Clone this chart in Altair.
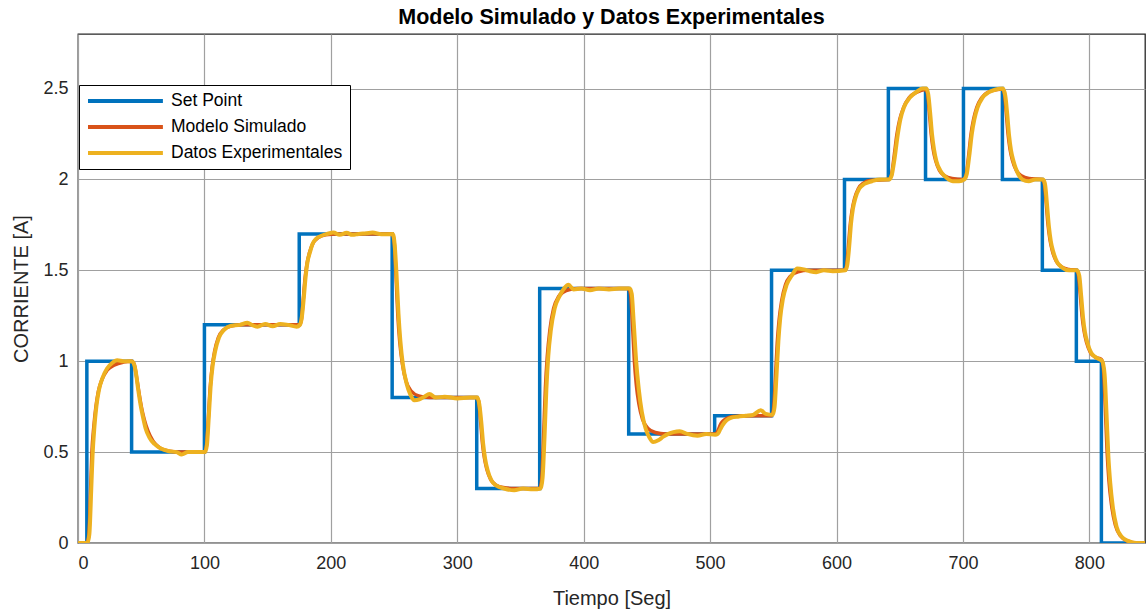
import altair as alt
import pandas as pd

# ---- Set Point (blue step signal) ----
sp_t = [0, 7, 42.4, 100, 175, 248.5, 315.4, 365.2, 435.6, 503.6, 548.6, 606.3,
        641, 670.4, 700.4, 731.2, 762.8, 789.7, 809.5, 844]
sp_i = [0, 1.0, 0.5, 1.2, 1.7, 0.8, 0.3, 1.4, 0.6, 0.7, 1.5, 2.0,
        2.5, 2.0, 2.5, 2.0, 1.5, 1.0, 0.0, 0.0]

# ---- Modelo Simulado (red) ----
model_t = [0, 7, 8.5, 10, 11, 12.5, 14, 16, 19, 23, 29, 36,
           42.4, 44.4, 46.4, 48.4, 50.4, 52.4, 55.4, 59.4, 64.4, 72.4, 82.4,
           100, 101.5, 103, 104.5, 106, 108, 111, 115, 121, 130,
           175, 176.5, 178, 179.5, 181, 183, 186, 190, 196, 205,
           248.5, 250, 251.5, 253, 254.5, 256.5, 259.5, 263.5, 269.5, 278,
           315.4, 316.9, 318.4, 319.9, 321.4, 323.4, 326.4, 330.4, 336.4, 345,
           365.2, 366.7, 368.2, 369.7, 371.2, 373.2, 376.2, 380.2, 386.2, 395,
           435.6, 437.1, 438.6, 440.1, 441.6, 443.6, 446.6, 450.6, 456.6, 465,
           503.6, 505.1, 506.6, 508.1, 509.6, 511.6, 514.6, 518.6, 524.6,
           548.6, 550.1, 551.6, 553.1, 554.6, 556.6, 559.6, 563.6, 569.6, 578,
           606.3, 607.8, 609.3, 610.8, 612.3, 614.3, 617.3, 621.3, 627.3,
           641, 643.3, 645.5, 647.8, 650, 653, 657.5, 663.5,
           670.4, 671.9, 673.4, 674.9, 676.4, 678.4, 681.4, 685.4, 691.4,
           700.4, 702.4, 704.4, 706.4, 708.4, 710.9, 714.9, 719.9, 727.4,
           731.2, 732.7, 734.2, 735.7, 737.2, 739.2, 742.2, 746.2, 752.2,
           762.8, 764.3, 765.8, 767.3, 768.8, 770.8, 773.8, 777.8, 783.8,
           789.7, 791.2, 792.7, 794.2, 795.7, 797.7, 800.7, 804.7,
           809.5, 811, 812.5, 814, 815.5, 817.5, 820.5, 824.5, 830.5, 837, 844]
model_i = [0, 0, 0.04, 0.3, 0.5, 0.64, 0.74, 0.83, 0.9, 0.95, 0.98, 0.995,
           1.0, 0.985, 0.91, 0.82, 0.74, 0.68, 0.615, 0.56, 0.525, 0.505, 0.5,
           0.5, 0.528, 0.675, 0.85, 0.962, 1.053, 1.13, 1.172, 1.193, 1.2,
           1.2, 1.22, 1.325, 1.45, 1.53, 1.595, 1.65, 1.68, 1.695, 1.7,
           1.7, 1.664, 1.475, 1.25, 1.106, 0.989, 0.89, 0.836, 0.809, 0.8,
           0.8, 0.78, 0.675, 0.55, 0.47, 0.405, 0.35, 0.32, 0.305, 0.3,
           0.3, 0.344, 0.575, 0.85, 1.026, 1.169, 1.29, 1.356, 1.389, 1.4,
           1.4, 1.368, 1.2, 1.0, 0.872, 0.768, 0.68, 0.632, 0.608, 0.6,
           0.6, 0.604, 0.625, 0.65, 0.666, 0.679, 0.69, 0.696, 0.699,
           0.7, 0.732, 0.9, 1.1, 1.228, 1.332, 1.42, 1.468, 1.492, 1.5,
           1.5, 1.52, 1.625, 1.75, 1.83, 1.895, 1.95, 1.98, 1.995,
           2.0, 2.02, 2.125, 2.25, 2.33, 2.395, 2.45, 2.48,
           2.495, 2.475, 2.37, 2.248, 2.168, 2.104, 2.05, 2.02, 2.005,
           2.0, 2.02, 2.125, 2.25, 2.33, 2.395, 2.45, 2.48, 2.495,
           2.497, 2.477, 2.372, 2.248, 2.168, 2.104, 2.05, 2.02, 2.005,
           2.0, 1.98, 1.875, 1.75, 1.67, 1.605, 1.55, 1.52, 1.505,
           1.5, 1.48, 1.375, 1.25, 1.17, 1.105, 1.05, 1.022,
           1.01, 0.97, 0.76, 0.505, 0.34, 0.21, 0.1, 0.04, 0.01, 0.0, 0.0]

# ---- Datos Experimentales (yellow) ----
exp_t = [0, 7.5, 9, 10.5, 11.5, 13, 14.5, 16.5, 19.5, 23, 27, 31, 36, 42.4,
         43.5, 45.5, 47.5, 49.5, 51.5, 53.5, 56.5, 60.5, 65.5, 72, 78, 82, 87, 93, 100.5,
         102, 103.5, 105, 106.5, 108.5, 111.5, 115.5, 121, 128, 134, 138, 142, 148, 154, 160, 166, 173, 175.5,
         177, 178.5, 180, 181.5, 183.5, 185.5, 188.5, 192.5, 197, 202, 207, 212.5, 217, 222, 228, 233, 240, 249,
         250.5, 252, 253.5, 255, 257, 260, 263, 266, 270, 274, 278, 283, 290, 300, 310, 316,
         317.5, 319, 320.5, 322, 324, 327, 331, 337, 345, 352, 360, 366,
         367.5, 369, 370.5, 372, 374, 377, 381, 385, 388, 392, 398, 405, 412, 420, 428, 436.5,
         438, 439.5, 441.5, 443.5, 446, 449, 452, 455, 459, 463, 467, 471, 476, 482, 490, 497, 504,
         506, 508, 510, 513, 517, 522, 528, 534, 540, 544, 549.5,
         551, 552.5, 554, 555.5, 557.5, 560.5, 564.5, 569, 574, 579, 584, 590, 597, 607,
         608.5, 610, 611.5, 613, 615, 618, 622, 628, 634, 641.5,
         643.5, 646, 648.5, 650.5, 653.5, 658, 664, 668, 671,
         672.5, 674, 675.5, 677, 679, 682, 686, 692, 697, 701,
         703, 705, 707, 709, 711.5, 715.5, 720.5, 726, 731.5,
         733.5, 735, 736.5, 738, 740, 743, 747, 752, 757, 763.5,
         765, 766.5, 768, 769.5, 771.5, 774.5, 778.5, 784, 790.2,
         792, 793.5, 795, 796.5, 798.5, 801.5, 805.5, 810.2,
         812, 813.5, 815, 816.5, 818.5, 821.5, 825.5, 831, 837, 844]
exp_i = [0, 0, 0.05, 0.3, 0.48, 0.64, 0.75, 0.84, 0.91, 0.96, 0.99, 1.005, 1.0, 1.0,
         0.995, 0.95, 0.85, 0.76, 0.69, 0.63, 0.58, 0.545, 0.52, 0.505, 0.5, 0.487, 0.5, 0.5, 0.5,
         0.54, 0.7, 0.87, 0.975, 1.055, 1.13, 1.172, 1.195, 1.2, 1.212, 1.198, 1.19, 1.205, 1.192, 1.205, 1.2, 1.19, 1.2,
         1.24, 1.34, 1.46, 1.545, 1.6, 1.645, 1.675, 1.69, 1.7, 1.708, 1.695, 1.706, 1.695, 1.7, 1.704, 1.708, 1.698, 1.7,
         1.64, 1.47, 1.26, 1.11, 0.98, 0.875, 0.815, 0.785, 0.79, 0.805, 0.82, 0.8, 0.805, 0.795, 0.8, 0.8,
         0.76, 0.665, 0.545, 0.465, 0.4, 0.345, 0.315, 0.3, 0.29, 0.3, 0.295, 0.3,
         0.36, 0.58, 0.85, 1.03, 1.17, 1.29, 1.36, 1.405, 1.42, 1.395, 1.4, 1.39, 1.4, 1.395, 1.4, 1.4,
         1.37, 1.22, 1.0, 0.85, 0.72, 0.63, 0.58, 0.555, 0.565, 0.585, 0.6, 0.61, 0.615, 0.6, 0.59, 0.6, 0.595,
         0.6, 0.625, 0.65, 0.675, 0.69, 0.695, 0.7, 0.705, 0.73, 0.71, 0.705,
         0.75, 0.92, 1.11, 1.24, 1.34, 1.42, 1.47, 1.51, 1.505, 1.495, 1.49, 1.5, 1.495, 1.5,
         1.53, 1.63, 1.76, 1.84, 1.9, 1.95, 1.975, 1.99, 2.0, 2.0,
         2.02, 2.12, 2.25, 2.33, 2.4, 2.45, 2.485, 2.5, 2.5,
         2.47, 2.37, 2.25, 2.17, 2.1, 2.05, 2.015, 1.99, 1.99, 2.0,
         2.03, 2.13, 2.25, 2.33, 2.395, 2.45, 2.48, 2.495, 2.5,
         2.46, 2.36, 2.24, 2.16, 2.1, 2.04, 2.0, 1.99, 2.0, 2.0,
         1.97, 1.86, 1.74, 1.66, 1.6, 1.545, 1.515, 1.5, 1.5,
         1.47, 1.36, 1.24, 1.16, 1.1, 1.045, 1.02, 1.0,
         0.93, 0.72, 0.48, 0.33, 0.2, 0.09, 0.035, 0.01, 0.0, 0.0]

series = ["Set Point", "Modelo Simulado", "Datos Experimentales"]
colors = ["#0072BD", "#D95319", "#EDB120"]
x_ticks = [0, 100, 200, 300, 400, 500, 600, 700, 800]
y_ticks = [0, 0.5, 1, 1.5, 2, 2.5]

assert len(sp_t) == len(sp_i)
assert len(model_t) == len(model_i)
assert len(exp_t) == len(exp_i)

df = pd.concat([
    pd.DataFrame({"t": sp_t, "i": sp_i, "serie": series[0]}),
    pd.DataFrame({"t": model_t, "i": model_i, "serie": series[1]}),
    pd.DataFrame({"t": exp_t, "i": exp_i, "serie": series[2]}),
], ignore_index=True)

FONT = "Liberation Sans"

x_enc = alt.X("t:Q", scale=alt.Scale(domain=[0, 844], nice=False, zero=False),
              axis=alt.Axis(values=x_ticks, title="Tiempo [Seg]", titleBaseline="alphabetic",
                            titleY=61, labelPadding=11))
y_enc = alt.Y("i:Q", scale=alt.Scale(domain=[0, 2.8], nice=False),
              axis=alt.Axis(values=y_ticks, format=".1~f", title="CORRIENTE [A]",
                            titleBaseline="alphabetic", titleX=-51, titleY=254.5,
                            labelPadding=10))
color_enc = alt.Color("serie:N", scale=alt.Scale(domain=series, range=colors),
                      legend=alt.Legend(orient="none", legendX=1, legendY=51, title=None,
                                        symbolType="M-1,0H9.7", symbolSize=196,
                                        symbolStrokeWidth=4, labelOffset=67,
                                        labelFontSize=17.5, labelFont=FONT, labelColor="#000000",
                                        fillColor="white", strokeColor="#000000",
                                        padding=7, rowPadding=8, labelLimit=400))

base = alt.Chart(df)
sp_line = base.transform_filter(alt.datum.serie == series[0]).mark_line(
    interpolate="step-after", strokeWidth=3.5, clip=True).encode(x=x_enc, y=y_enc, color=color_enc)
model_line = base.transform_filter(alt.datum.serie == series[1]).mark_line(
    interpolate="monotone", strokeWidth=3.5, clip=True).encode(x=x_enc, y=y_enc, color=color_enc)
exp_line = base.transform_filter(alt.datum.serie == series[2]).mark_line(
    interpolate="monotone", strokeWidth=4, clip=True).encode(x=x_enc, y=y_enc, color=color_enc)

chart = alt.layer(sp_line, model_line, exp_line).properties(
    width=1067, height=509,
    title=alt.TitleParams("Modelo Simulado y Datos Experimentales", fontSize=21.5,
                          fontWeight="bold", font=FONT, color="#000000", offset=6),
    autosize=alt.AutoSizeParams(type="none"),
    padding={"left": 78, "top": 34, "right": 1, "bottom": 67},
).configure_view(
    stroke="#262626", strokeWidth=1.3
).configure_axis(
    domain=False, ticks=False, tickSize=0,
    grid=True, gridColor="#a0a0a0", gridWidth=1.2, gridOpacity=1,
    labelFont=FONT, labelFontSize=18, labelColor="#262626",
    titleFont=FONT, titleFontSize=20, titleFontWeight="normal", titleColor="#262626",
)

chart.save("out.html", embed_options={"renderer": "svg", "actions": False})
